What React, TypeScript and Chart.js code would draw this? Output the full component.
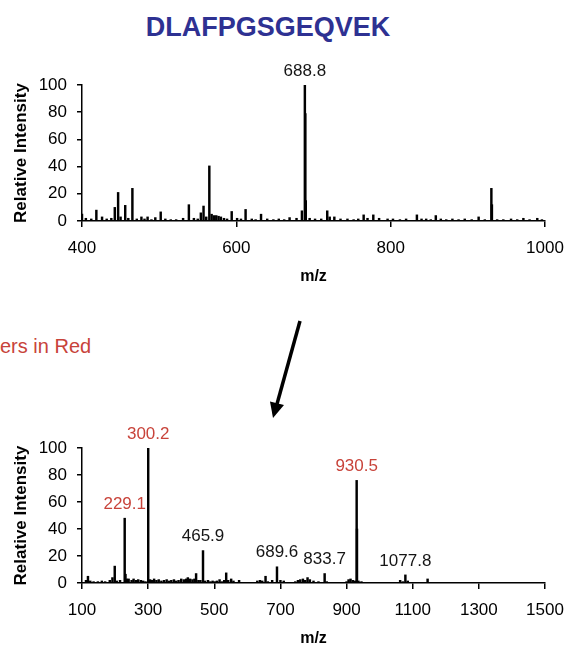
import React, { useEffect, useRef } from 'react';
import { Chart, registerables } from 'chart.js';

Chart.register(...registerables);

const FONT = "'Liberation Sans', Arial, Helvetica, sans-serif";

const titleText = 'DLAFPGSGEQVEK';
const noteText = 'ers in Red';
const xTitle = 'm/z';
const yTitle = 'Relative Intensity';

// Top spectrum (m/z, relative intensity)
const topMz = [
  400, 405, 412, 418.6, 426, 432, 438, 442.5, 446.8, 450, 456, 460, 465.3, 471, 477, 481, 485, 490, 495,
  502, 508, 515, 522, 531, 538.5, 545, 550, 554, 557.5, 561, 565, 568, 571, 574, 577, 580, 584, 588, 594,
  601, 606, 612, 620, 625, 632, 640, 648, 655, 662, 669, 678, 685, 688.8, 689.4, 690, 695, 702, 710,
  717.8, 721, 727, 735, 744, 752, 758, 765, 770, 777.5, 785, 796, 803, 812, 820, 834, 840, 846, 852,
  858.5, 865, 872, 880, 888, 896, 905, 914, 922, 930.5, 931.2, 938, 946, 956, 964, 972, 980, 990, 996,
];
const topIntensity = [
  5, 2, 1.5, 8, 3, 1.5, 2, 10, 21, 3, 11.5, 2, 24, 1.5, 3, 1.5, 3, 1, 2.5,
  6.7, 1.5, 1, 1, 2, 12, 2, 1.5, 6, 11, 3, 40.5, 5, 4, 4, 3.5, 3, 2, 1.5, 7,
  2, 1.5, 8.5, 1.5, 1, 5, 1.5, 1, 1.5, 1, 2.5, 2, 7.5, 100, 79, 15, 2, 1.5, 1.5,
  7.5, 3, 3, 1.5, 1.5, 1, 1.5, 4.5, 2, 4.5, 2, 1.5, 1.5, 1, 1.5, 4.5, 1.5, 1.5, 1,
  4, 1.5, 1, 1.5, 1, 1.5, 1, 3, 1, 24, 12, 1, 1, 1.5, 1, 2, 1, 2, 1,
];
const topXMin = 400;
const topXMax = 1000;
const topLabelMz = [688.8];
const topLabelIntensity = [100];
const topLabelRed = [false];

// Bottom spectrum (m/z, relative intensity)
const bottomMz = [
  112, 118, 125, 135, 148, 160, 170, 184, 192, 199, 205, 215, 229.1, 231.5, 236, 241, 250, 256, 263, 270,
  278, 285, 292, 300.2, 306, 312, 318, 325, 332, 340, 348, 356, 363, 370, 378, 385, 392, 400, 408, 415,
  420, 427, 434, 440, 445, 452, 458, 465.9, 472, 481, 488, 495, 502, 508, 516, 523, 530, 536, 542, 551,
  558, 575, 630, 638, 645, 655, 662, 675, 689.6, 700, 710, 745, 753, 760, 768, 775, 782, 789, 800, 815,
  833.7, 840, 900, 906, 912, 919, 925, 930.5, 931.5, 936, 945, 1062, 1070, 1077.8, 1085, 1145,
];
const bottomIntensity = [
  2, 5, 1.5, 1, 1, 1.5, 1, 2, 4, 12.5, 1.5, 2, 48, 6.5, 3, 3, 2, 3, 2, 2.5,
  2, 1.5, 1, 100, 2.5, 2, 3, 2, 2.5, 1.5, 2, 2.5, 1.5, 2, 2.5, 1.5, 2, 3, 2.5, 3,
  4, 3, 2.5, 3, 7, 2, 2, 24, 1.5, 2, 1, 1.5, 1, 1.5, 2.5, 1, 2, 7.5, 2, 3,
  1.5, 2, 1.5, 2, 1.5, 5, 1, 2, 12, 2, 1.5, 1, 2, 2.5, 3, 2, 4, 2.5, 1.5, 1,
  7, 1, 1, 2.5, 3, 2, 1.5, 76, 40, 1.5, 1, 2, 1, 6, 1.5, 3,
];
const bottomXMin = 100;
const bottomXMax = 1500;
const bottomLabelMz = [229.1, 300.2, 465.9, 689.6, 833.7, 930.5, 1077.8];
const bottomLabelIntensity = [48, 100, 24, 12, 7, 76, 6];
const bottomLabelRed = [true, true, false, false, false, true, false];

const xStep = 200;
const yMin = 0;
const yMax = 100;
const yStep = 20;

const RED = '#c8433a';
const BLUE = '#2e3192';

function peakLabelPlugin(mzs: number[], vals: number[], reds: boolean[]) {
  return {
    id: 'peakLabels',
    afterDatasetsDraw(chart: any) {
      const ctx = chart.ctx;
      const xs = chart.scales.x;
      const ys = chart.scales.y;
      ctx.save();
      ctx.font = `17px ${FONT}`;
      ctx.textAlign = 'center';
      ctx.textBaseline = 'middle';
      mzs.forEach((m, i) => {
        const px = xs.getPixelForValue(m);
        const py = ys.getPixelForValue(vals[i]) - 14;
        ctx.fillStyle = reds[i] ? RED : '#151515';
        ctx.fillText(m.toFixed(1), px, py);
      });
      ctx.restore();
    },
  };
}

function makeConfig(
  mz: number[], inten: number[], xMin: number, xMax: number,
  padTop: number, xAxisH: number, titlePadBottom: number, plugin: any
): any {
  const tickFont = { family: FONT, size: 17 };
  const gridCommon = {
    display: true, drawOnChartArea: false, drawTicks: true, color: '#000', lineWidth: 1.5, offset: false,
  };
  const plain = (v: any) => String(v);
  return {
    type: 'bar',
    data: {
      datasets: [{
        data: mz.map((x, i) => ({ x, y: inten[i] })),
        backgroundColor: '#000',
        borderWidth: 0,
        barThickness: 1.8,
        grouped: false,
      }],
    },
    options: {
      animation: false,
      responsive: false,
      maintainAspectRatio: false,
      layout: { padding: { left: 0, right: 20, top: padTop, bottom: 0 } },
      plugins: { legend: { display: false }, tooltip: { enabled: false } },
      scales: {
        x: {
          type: 'linear', min: xMin, max: xMax, offset: false,
          ticks: { stepSize: xStep, color: '#000', font: tickFont, padding: 11, maxRotation: 0, autoSkip: false, callback: plain },
          grid: { ...gridCommon, tickLength: 6 },
          border: { display: true, color: '#000', width: 1.5 },
          title: {
            display: true, text: xTitle, color: '#000',
            font: { family: FONT, size: 16, weight: 'bold' },
            padding: { top: 0, bottom: titlePadBottom },
          },
          afterFit: (s: any) => { s.height = xAxisH; s.paddingLeft = 0; s.paddingRight = 0; },
        },
        y: {
          min: yMin, max: yMax,
          ticks: { stepSize: yStep, color: '#000', font: tickFont, padding: 10, callback: plain },
          grid: { ...gridCommon, tickLength: 5 },
          border: { display: true, color: '#000', width: 1.5 },
          title: {
            display: true, text: yTitle, color: '#000',
            font: { family: FONT, size: 17, weight: 'bold' },
            padding: { top: 11, bottom: 0 },
          },
          afterFit: (s: any) => { s.width = 82; s.paddingTop = 0; s.paddingBottom = 0; },
        },
      },
    },
    plugins: [plugin],
  };
}

export default function App() {
  const topRef = useRef<HTMLCanvasElement | null>(null);
  const botRef = useRef<HTMLCanvasElement | null>(null);

  useEffect(() => {
    Chart.defaults.font.family = FONT;
    const c1 = new Chart(topRef.current as HTMLCanvasElement, makeConfig(
      topMz, topIntensity, topXMin, topXMax, 45, 79, 13.4,
      peakLabelPlugin(topLabelMz, topLabelIntensity, topLabelRed)
    ));
    const c2 = new Chart(botRef.current as HTMLCanvasElement, makeConfig(
      bottomMz, bottomIntensity, bottomXMin, bottomXMax, 48, 73, 7.4,
      peakLabelPlugin(bottomLabelMz, bottomLabelIntensity, bottomLabelRed)
    ));
    return () => { c1.destroy(); c2.destroy(); };
  }, []);

  return (
    <div style={{ position: 'absolute', left: 0, top: 0, width: 565, height: 646, overflow: 'hidden', background: '#fff' }}>
      <div style={{
        position: 'absolute', left: 0, top: 14, width: 536, textAlign: 'center',
        font: `bold 27px ${FONT}`, lineHeight: '27px', color: BLUE, whiteSpace: 'nowrap',
      }}>{titleText}</div>
      <canvas ref={topRef} width={565} height={260}
        style={{ position: 'absolute', left: 0, top: 40, width: 565, height: 260 }} />
      <div style={{
        position: 'absolute', left: 0, top: 336, font: `20px ${FONT}`, lineHeight: '20px', color: RED, whiteSpace: 'nowrap',
      }}>{noteText}</div>
      <canvas ref={botRef} width={565} height={256}
        style={{ position: 'absolute', left: 0, top: 400, width: 565, height: 256 }} />
      <svg width={565} height={646} style={{ position: 'absolute', left: 0, top: 0, pointerEvents: 'none' }}>
        <line x1={300} y1={321} x2={277} y2={404} stroke="#000" strokeWidth={3.5} />
        <polygon points="273,418 284,405 270,401.5" fill="#000" />
      </svg>
    </div>
  );
}
